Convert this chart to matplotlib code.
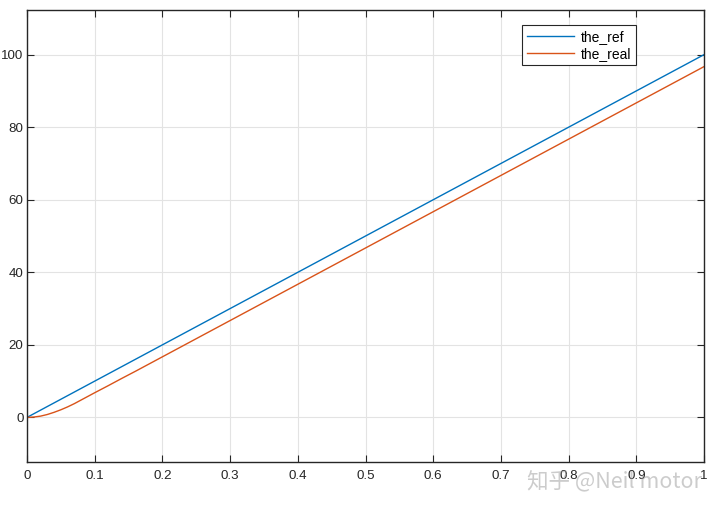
import matplotlib
matplotlib.use("Agg")
import matplotlib.pyplot as plt

t_ref = [0.0, 1.0]
y_ref = [0.0, 100.0]

t_real = [0.0, 0.01, 0.02, 0.03, 0.04, 0.05, 0.06, 0.07, 0.08, 0.09, 0.10, 0.12, 0.14,
          0.16, 0.18, 0.20, 0.25, 0.30, 0.40, 0.50, 0.60, 0.70, 0.80, 0.90, 1.00]
y_real = [0.0, 0.1, 0.35, 0.8, 1.4, 2.1, 2.9, 3.8, 4.8, 5.8, 6.8, 8.75, 10.75,
          12.7, 14.7, 16.7, 21.7, 26.7, 36.7, 46.7, 56.7, 66.7, 76.7, 86.7, 96.7]

xticks = [0, 0.1, 0.2, 0.3, 0.4, 0.5, 0.6, 0.7, 0.8, 0.9, 1]
xticklabels = ["0", "0.1", "0.2", "0.3", "0.4", "0.5", "0.6", "0.7", "0.8", "0.9", "1"]
yticks = [0, 20, 40, 60, 80, 100]

plt.rcParams['font.family'] = ['Liberation Sans', 'DejaVu Sans']

fig = plt.figure(figsize=(7.2, 5.09), dpi=100)
ax = fig.add_axes([0.0375, 0.0923, 0.9403, 0.888])

ax.plot(t_ref, y_ref, color='#0072BD', lw=1.0, label='the_ref')
ax.plot(t_real, y_real, color='#D95319', lw=1.0, label='the_real')

ax.set_xlim(0, 1)
ax.set_ylim(-12.3, 112.3)
ax.set_xticks(xticks)
ax.set_xticklabels(xticklabels)
ax.set_yticks(yticks)
ax.grid(True, color='#e3e3e3', lw=0.8)
ax.set_axisbelow(True)
ax.tick_params(direction='in', top=True, right=True, length=5, width=0.8,
               labelsize=9.6, colors='#262626')
ax.tick_params(axis='y', pad=2.5)
ax.tick_params(axis='x', pad=5.5)
for s in ax.spines.values():
    s.set_color('#262626')
    s.set_linewidth(1.0)

leg = ax.legend(loc='upper right', bbox_to_anchor=(0.8996, 0.967), fontsize=10,
                fancybox=False, framealpha=1, edgecolor='#262626', borderaxespad=0,
                handlelength=3.4, borderpad=0.35, labelspacing=0.2, handletextpad=0.5)
leg.get_frame().set_linewidth(0.8)

fig.text(0.854, 0.052, '知乎 @Neil motor', family=['Noto Sans CJK SC', 'DejaVu Sans'],
         fontsize=15.5, color='#9a9a9a', alpha=0.5, ha='center', va='center')

fig.savefig('out.png', dpi=100)
